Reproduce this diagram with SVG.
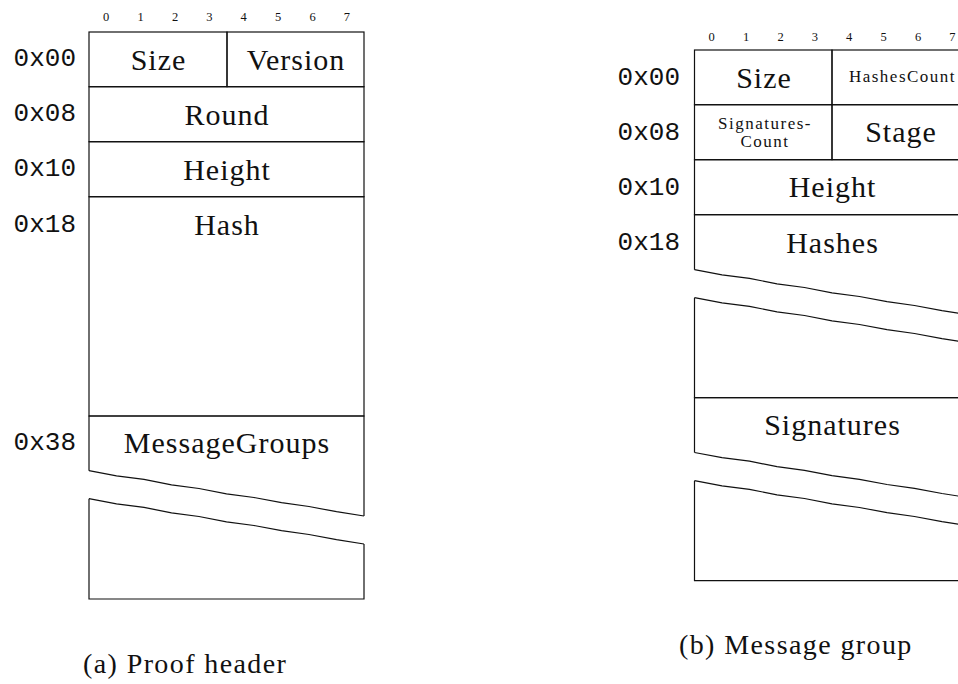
<svg xmlns="http://www.w3.org/2000/svg" width="958" height="684" viewBox="0 0 958 684">
<style>
.box{fill:none;stroke:#111;stroke-width:1.2}
.lbl{font-family:'Liberation Serif','DejaVu Serif',serif;font-size:30px;letter-spacing:1px;text-anchor:middle;fill:#111}
.sm{font-family:'Liberation Serif','DejaVu Serif',serif;font-size:17px;letter-spacing:1.5px;text-anchor:middle;fill:#111}
.bit{font-family:'Liberation Serif','DejaVu Serif',serif;font-size:12.5px;text-anchor:middle;fill:#111}
.off{font-family:'Liberation Mono','DejaVu Sans Mono',monospace;font-size:26px;text-anchor:end;fill:#111}
.cap{font-family:'Liberation Serif','DejaVu Serif',serif;font-size:28px;letter-spacing:1.4px;fill:#111}
</style>
<defs>
<path id="brk" class="box" d="M0,0 L27.5,5.1 L55,8.7 L82.5,14.1 L110,17.8 L137.5,23.1 L165,26.8 L192.5,32 L220,35.8 L247.5,41 L275,45.3"/>
</defs>
<rect width="958" height="684" fill="#fff"/>

<!-- (a) Proof header -->
<g id="a-bits">
<text class="bit" x="106.2" y="20.5">0</text><text class="bit" x="140.6" y="20.5">1</text><text class="bit" x="175" y="20.5">2</text><text class="bit" x="209.3" y="20.5">3</text><text class="bit" x="243.7" y="20.5">4</text><text class="bit" x="278.1" y="20.5">5</text><text class="bit" x="312.5" y="20.5">6</text><text class="bit" x="346.8" y="20.5">7</text>
</g>
<g id="a-offsets">
<text class="off" x="76" y="66">0x00</text>
<text class="off" x="76" y="121">0x08</text>
<text class="off" x="76" y="176">0x10</text>
<text class="off" x="76" y="231.5">0x18</text>
<text class="off" x="76" y="450">0x38</text>
</g>
<g id="a-size"><rect class="box" x="89" y="32" width="138" height="54.7"/><text class="lbl" x="158.5" y="69.5">Size</text></g>
<g id="a-version"><rect class="box" x="227" y="32" width="137" height="54.7"/><text class="lbl" x="296" y="69.5">Version</text></g>
<g id="a-round"><rect class="box" x="89" y="86.7" width="275" height="55"/><text class="lbl" x="227" y="124.5">Round</text></g>
<g id="a-height"><rect class="box" x="89" y="141.7" width="275" height="55"/><text class="lbl" x="227" y="179.5">Height</text></g>
<g id="a-hash"><rect class="box" x="89" y="196.7" width="275" height="219.3"/><text class="lbl" x="227" y="234.5">Hash</text></g>
<g id="a-messagegroups">
<path class="box" d="M89,470.7 V416 H364 V516"/>
<use href="#brk" x="89" y="470.7"/>
<path class="box" d="M89,498.7 V599 H364 V544"/>
<use href="#brk" x="89" y="498.7"/>
<text class="lbl" x="227" y="452.5">MessageGroups</text>
</g>
<text id="a-caption" class="cap" x="83" y="673">(a) Proof header</text>

<!-- (b) Message group -->
<g id="b-bits">
<text class="bit" x="711.7" y="40.5">0</text><text class="bit" x="746.1" y="40.5">1</text><text class="bit" x="780.5" y="40.5">2</text><text class="bit" x="814.8" y="40.5">3</text><text class="bit" x="849.2" y="40.5">4</text><text class="bit" x="883.6" y="40.5">5</text><text class="bit" x="918" y="40.5">6</text><text class="bit" x="952.3" y="40.5">7</text>
</g>
<g id="b-offsets">
<text class="off" x="680" y="85">0x00</text>
<text class="off" x="680" y="140">0x08</text>
<text class="off" x="680" y="195">0x10</text>
<text class="off" x="680" y="250">0x18</text>
</g>
<g id="b-size"><rect class="box" x="694.5" y="50" width="137.5" height="54.7"/><text class="lbl" x="764" y="88">Size</text></g>
<g id="b-hashescount"><rect class="box" x="832" y="50" width="137.5" height="54.7"/><text class="sm" x="902.5" y="82">HashesCount</text></g>
<g id="b-signaturescount"><rect class="box" x="694.5" y="104.7" width="137.5" height="55"/><text class="sm" x="765" y="129">Signatures-</text><text class="sm" x="765" y="147">Count</text></g>
<g id="b-stage"><rect class="box" x="832" y="104.7" width="137.5" height="55"/><text class="lbl" x="901" y="141.5">Stage</text></g>
<g id="b-height"><rect class="box" x="694.5" y="159.7" width="275" height="55"/><text class="lbl" x="832.5" y="196.5">Height</text></g>
<g id="b-hashes">
<path class="box" d="M694.5,269.7 V214.7 H969.5 V315"/>
<use href="#brk" x="694.5" y="269.7"/>
<path class="box" d="M694.5,297.7 V397.7 H969.5 V343"/>
<use href="#brk" x="694.5" y="297.7"/>
<text class="lbl" x="832.5" y="252.5">Hashes</text>
</g>
<g id="b-signatures">
<path class="box" d="M694.5,452.5 V397.7 H969.5 V497.8"/>
<use href="#brk" x="694.5" y="452.5"/>
<path class="box" d="M694.5,480.7 V580.7 H969.5 V526"/>
<use href="#brk" x="694.5" y="480.7"/>
<text class="lbl" x="832.5" y="434.5">Signatures</text>
</g>
<text id="b-caption" class="cap" x="679" y="654">(b) Message group</text>
<g id="connectors"/>
</svg>
